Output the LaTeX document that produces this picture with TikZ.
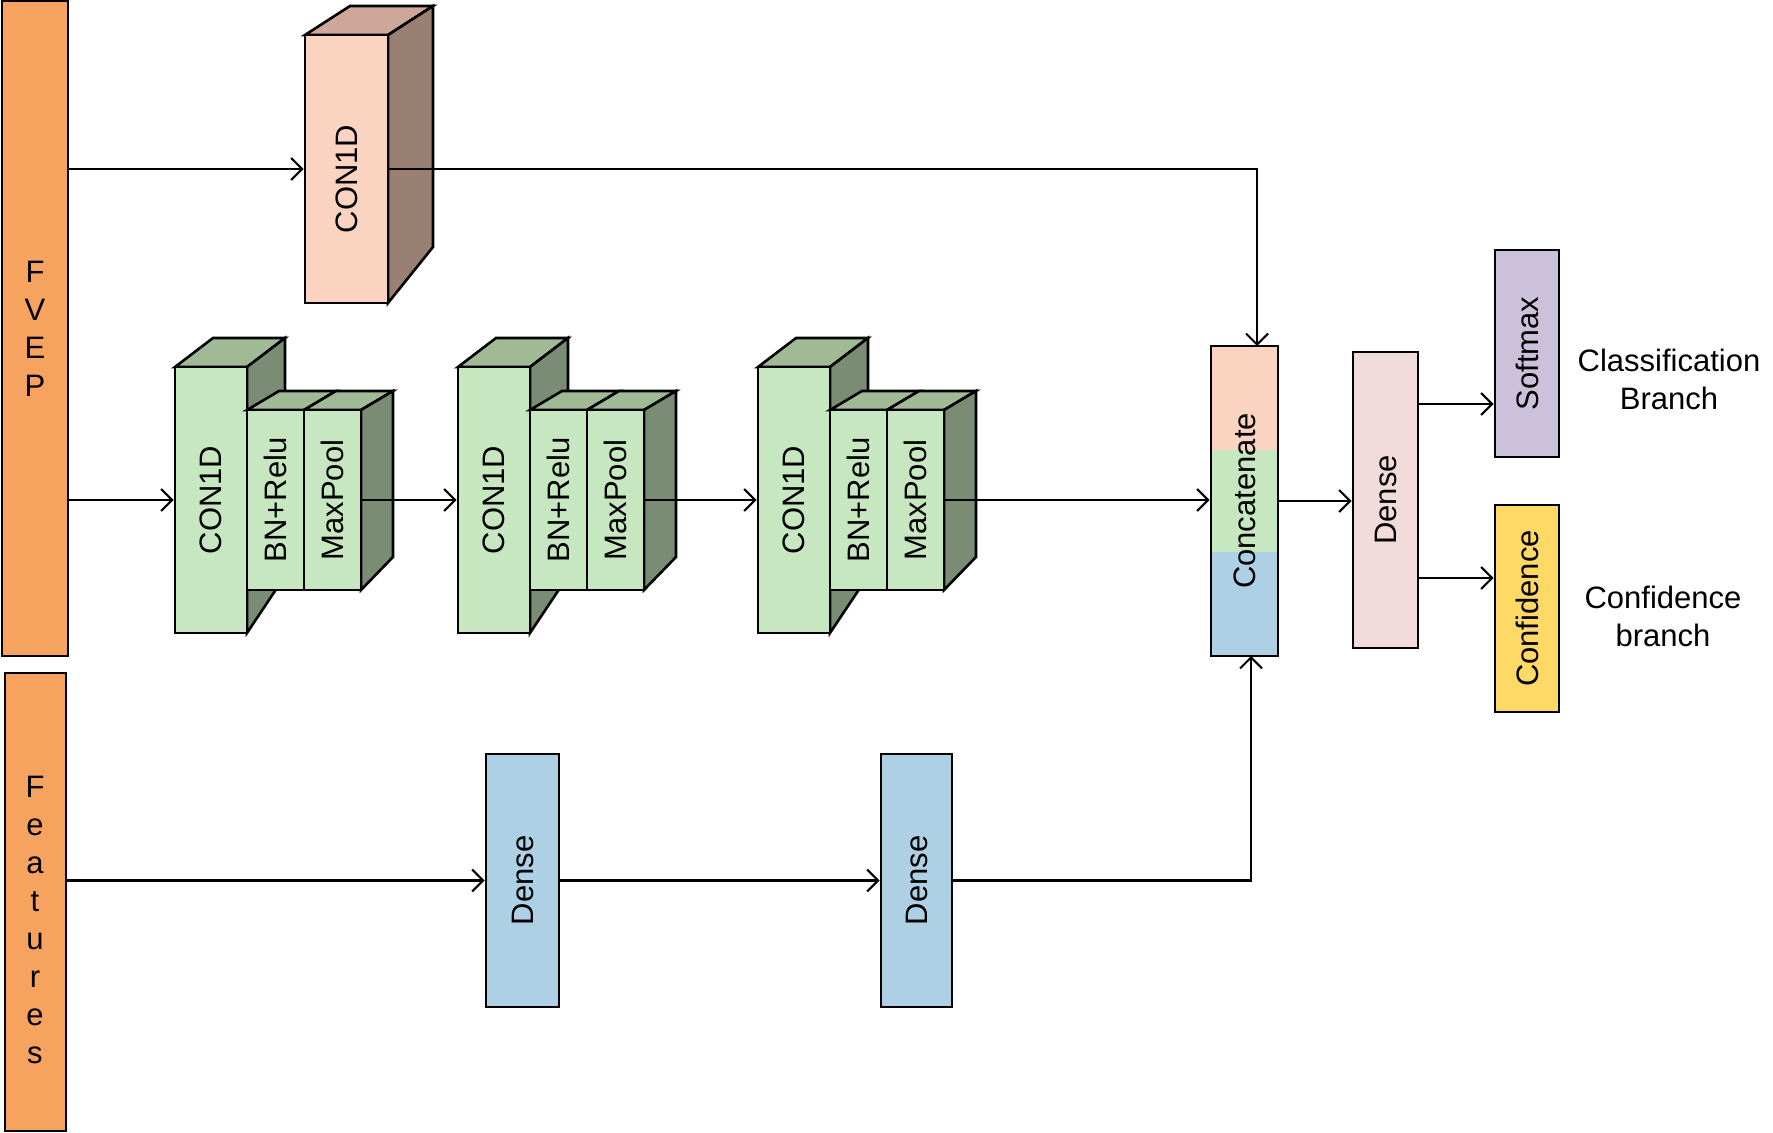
\documentclass[tikz,border=0pt]{standalone}
\usepackage{fontspec}
\setmainfont{Liberation Sans}
\usepackage{graphicx}
\usetikzlibrary{arrows.meta}
\definecolor{orangeA}{RGB}{246,163,95}
\definecolor{peachF}{RGB}{251,211,193}
\definecolor{peachT}{RGB}{205,168,154}
\definecolor{peachS}{RGB}{154,127,115}
\definecolor{greenF}{RGB}{198,231,192}
\definecolor{greenT}{RGB}{160,186,150}
\definecolor{greenS}{RGB}{122,140,115}
\definecolor{blueA}{RGB}{173,208,229}
\definecolor{pinkA}{RGB}{241,220,219}
\definecolor{purpA}{RGB}{204,193,218}
\definecolor{yellA}{RGB}{255,217,102}
\begin{document}
\begin{tikzpicture}[x=0.5pt,y=-0.5pt,
  every node/.style={font=\fontsize{15.5}{19}\selectfont},
  box/.style={draw, line width=1.3pt, inner sep=0pt},
  face/.style={draw, line width=1.3pt, line join=miter},
  arr/.style={line width=1.05pt, -{Straight Barb[length=5.5pt,width=11pt]}},
  plain/.style={line width=1pt}]
\useasboundingbox (0,0) rectangle (1773,1133);

% inputs
\node[box, fill=orangeA, minimum width=33pt, minimum height=327.5pt, align=center] (fvep) at (35,328.5) {F\\V\\E\\P};
\node[box, fill=orangeA, minimum width=30.5pt, minimum height=229pt] (feat) at (35.5,902) {};
\node[align=center, inner sep=0pt] (feattxt) at (35,920) {F\\e\\a\\t\\u\\r\\e\\s};

% top CON1D cuboid
\draw[face, fill=peachT] (305,35) -- (350,6) -- (433,6) -- (388,35) -- cycle;
\draw[face, fill=peachS] (388,35) -- (433,6) -- (433,247) -- (388,303) -- cycle;
\node[box, fill=peachF, minimum width=41.5pt, minimum height=134pt] (topc) at (346.5,169) {\rotatebox{90}{CON1D\hspace*{10pt}}};

% green blocks
\foreach \i/\x in {1/175, 2/458, 3/758} {
  \draw[face, fill=greenT] ({\x},367) -- ({\x+38},338) -- ({\x+110},338) -- ({\x+72},367) -- cycle;
  \draw[face, fill=greenS] ({\x+72},367) -- ({\x+110},338) -- ({\x+110},576) -- ({\x+72},633) -- cycle;
  \node[box, fill=greenF, minimum width=36pt, minimum height=133pt] (c\i) at ({\x+36},500) {\rotatebox{90}{CON1D}};
  \draw[face, fill=greenT] ({\x+72},410) -- ({\x+104},391) -- ({\x+161},391) -- ({\x+129},410) -- cycle;
  \draw[face, fill=greenT] ({\x+129},410) -- ({\x+161},391) -- ({\x+218},391) -- ({\x+186},410) -- cycle;
  \draw[face, fill=greenS] ({\x+186},410) -- ({\x+218},391) -- ({\x+218},557) -- ({\x+186},590) -- cycle;
  \node[box, fill=greenF, minimum width=28.5pt, minimum height=90pt] (b\i) at ({\x+100.5},500) {\rotatebox{90}{BN+Relu}};
  \node[box, fill=greenF, minimum width=28.5pt, minimum height=90pt] (m\i) at ({\x+157.5},500) {\rotatebox{90}{MaxPool}};
}

% concatenate
\fill[peachF] (1211,346) rectangle (1278,450);
\fill[greenF] (1211,450) rectangle (1278,552);
\fill[blueA] (1211,552) rectangle (1278,656);
\node[box, minimum width=33.5pt, minimum height=155pt] (cat) at (1244.5,501) {\rotatebox{90}{Concatenate}};

% dense / outputs
\node[box, fill=pinkA, minimum width=32.5pt, minimum height=148pt] (dn) at (1385.5,500) {\rotatebox{90}{Dense}};
\node[box, fill=purpA, minimum width=32pt, minimum height=103.5pt] (sm) at (1527,353.5) {\rotatebox{90}{Softmax}};
\node[box, fill=yellA, minimum width=32pt, minimum height=103.5pt] (cf) at (1527,608.5) {\rotatebox{90}{Confidence}};
\node[align=center, inner sep=0pt] (cls) at (1669,379) {Classification\\Branch};
\node[align=center, inner sep=0pt] (cfl) at (1663,616) {Confidence\\branch};

% features dense
\node[box, fill=blueA, minimum width=36.5pt, minimum height=126.5pt] (d1) at (522.5,880.5) {\rotatebox{90}{Dense}};
\node[box, fill=blueA, minimum width=35.5pt, minimum height=126.5pt] (d2) at (916.5,880.5) {\rotatebox{90}{Dense}};

% connectors
\draw[arr] (fvep.east |- topc.west) -- (topc.west);
\coordinate (catin) at (1257,346);
\draw[arr] (topc.east) -| (catin);
\draw[arr] (fvep.east |- c1.west) -- (c1.west);
\draw[arr] (m1.east) -- (c2.west);
\draw[arr] (m2.east) -- (c3.west);
\draw[arr] (m3.east) -- (m3.east -| cat.west);
\draw[arr] (feat.east |- d1.west) -- (d1.west);
\draw[arr] (d1.east) -- (d2.west);
\coordinate (catbot) at (1251,656);
\draw[arr] (d2.east) -| (catbot);
\draw[arr] (cat.east) -- (cat.east -| dn.west);
\coordinate (o1) at (1418,404);
\coordinate (o2) at (1418,578);
\draw[arr] (o1) -- (o1 -| sm.west);
\draw[arr] (o2) -- (o2 -| cf.west);
\end{tikzpicture}
\end{document}
